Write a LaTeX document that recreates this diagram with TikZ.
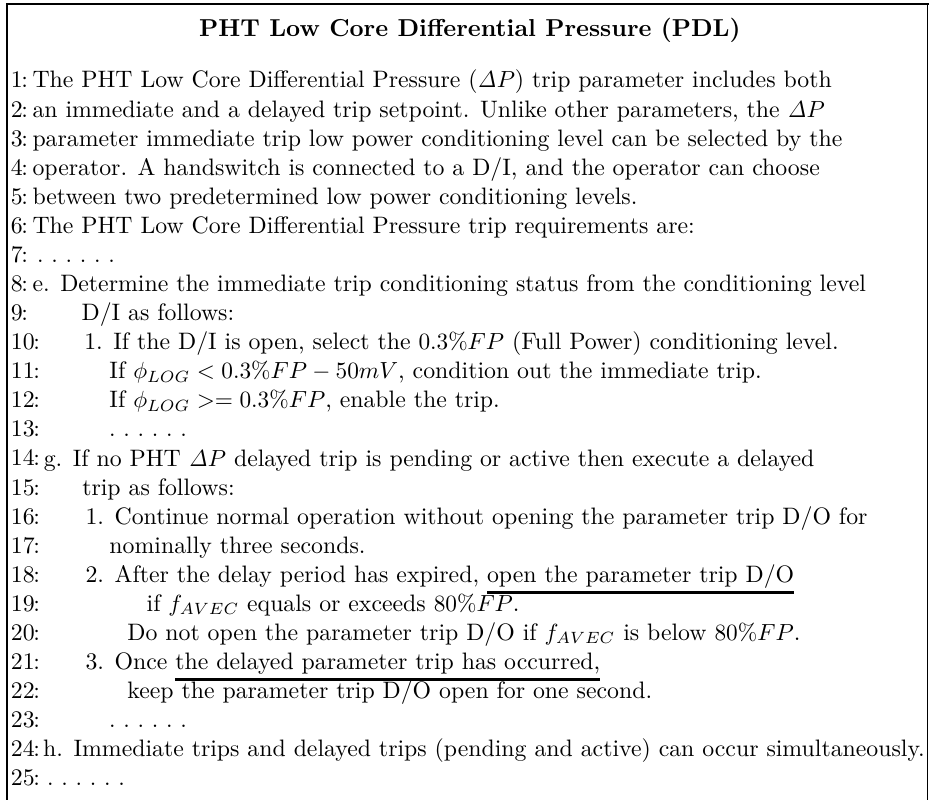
\documentclass[tikz,border=0pt]{standalone}
\usepackage{amsmath}

% six spaced dots for the skipped steps
\newcommand{\skipdots}{$\ldotp\,\ldotp\,\ldotp\,\ldotp\,\ldotp\,\ldotp$}

\tikzset{
  txt/.style={anchor=base west, inner sep=0pt, outer sep=0pt, font=\fontsize{10.2}{12}\selectfont},
  under/.style={line width=1.3pt},
}

\begin{document}
\begin{tikzpicture}
\useasboundingbox (0,0) rectangle (14,12.056);

% frame, open at the bottom
\draw[line width=1.2pt] (0.09,11.996) -- (14,11.996);
\draw[line width=0.9pt] (0.11,11.996) -- (0.11,0);
\draw[line width=0.45pt] (13.98,11.996) -- (13.98,0);

\node[anchor=base, inner sep=0pt, font=\fontsize{10.5}{12}\bfseries] (title) at (7.08,11.50) {PHT Low Core Differential Pressure (PDL)};

% line numbers
\foreach \n in {1,...,25} {
	\node[txt] (n\n) at (0.165, {10.730-(\n-1)*0.4382}) {\n\kern-0.6pt:};
}

\node[txt] (t1) at (0.49,10.730) {The PHT Low Core Differential Pressure ($\mathit{\Delta}P$) trip parameter includes both};
\node[txt] (t2) at (0.49,10.292) {an immediate and a delayed trip setpoint. Unlike other parameters, the $\mathit{\Delta}P$};
\node[txt] (t3) at (0.49,9.854) {parameter immediate trip low power conditioning level can be selected by the};
\node[txt] (t4) at (0.49,9.415) {operator. A handswitch is connected to a D/I, and the operator can choose};
\node[txt] (t5) at (0.49,8.977) {between two predetermined low power conditioning levels.};
\node[txt] (t6) at (0.49,8.539) {The PHT Low Core Differential Pressure trip requirements are:};
\node[txt] (t7) at (0.56,8.101) {\skipdots};
\node[txt] (t8) at (0.49,7.663) {e. Determine the immediate trip conditioning status from the conditioning level};
\node[txt] (t9) at (1.23,7.224) {D/I as follows:};
\node[txt] (t10) at (1.27,6.786) {1. If the D/I is open, select the $0.3\%FP$ (Full Power) conditioning level.};
\node[txt] (t11) at (1.65,6.348) {If $\phi_{LOG} < 0.3\%FP - 50mV$, condition out the immediate trip.};
\node[txt] (t12) at (1.65,5.910) {If $\phi_{LOG} >= 0.3\%FP$, enable the trip.};
\node[txt] (t13) at (1.645,5.472) {\skipdots};

\node[txt] (t14) at (0.66,5.033) {g. If no PHT $\mathit{\Delta}P$ delayed trip is pending or active then execute a delayed};
\node[txt] (t15) at (1.24,4.595) {trip as follows:};
\node[txt] (t16) at (1.29,4.157) {1. Continue normal operation without opening the parameter trip D/O for};
\node[txt] (t17) at (1.65,3.719) {nominally three seconds.};
\node[txt] (t18) at (1.29,3.281) {2. After the delay period has expired,};
\node[txt] (u18) at ([xshift=3.4pt]t18.base east) {open the parameter trip D/O};
\node[txt] (t19) at (2.21,2.842) {if $f_{AVEC}$ equals or exceeds $80\%FP$.};
\node[txt] (t20) at (1.92,2.404) {Do not open the parameter trip D/O if $f_{AVEC}$ is below $80\%FP$.};
\node[txt] (t21) at (1.29,1.966) {3. Once};
\node[txt] (u21) at ([xshift=3.4pt]t21.base east) {the delayed parameter trip has occurred,};
\node[txt] (t22) at (1.92,1.528) {keep the parameter trip D/O open for one second.};
\node[txt] (t23) at (1.645,1.090) {\skipdots};
\node[txt] (t24) at (0.65,0.651) {h. Immediate trips and delayed trips (pending and active) can occur simultaneously.};
\node[txt] (t25) at (0.71,0.213) {\skipdots};

% underlined requirements
\draw[under] ([yshift=-4.3pt]u18.base west) -- ([yshift=-4.3pt]u18.base east);
\draw[under] ([yshift=-4.3pt]u21.base west) -- ([yshift=-4.3pt]u21.base east);

\end{tikzpicture}
\end{document}
